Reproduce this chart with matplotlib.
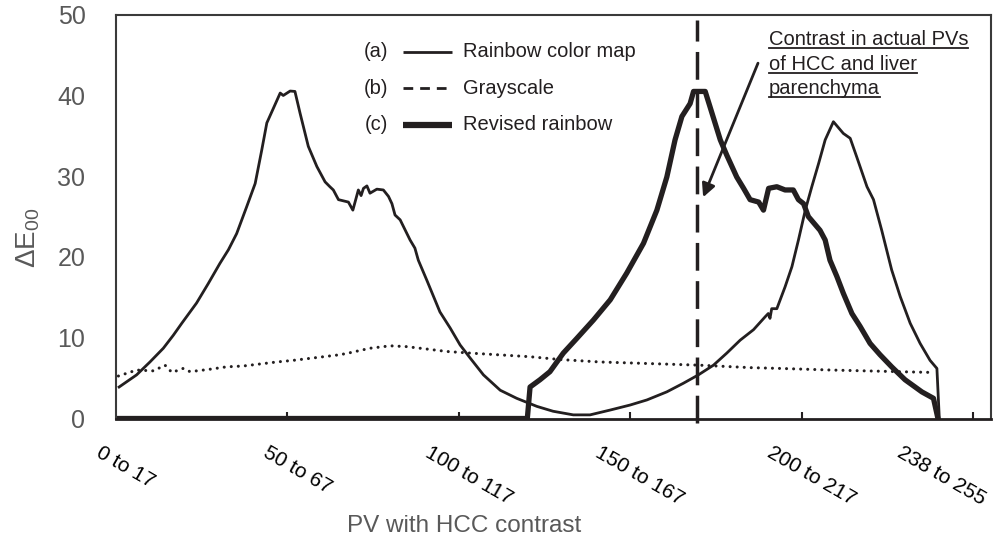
import matplotlib
matplotlib.use('Agg')
import matplotlib.pyplot as plt
from matplotlib.lines import Line2D
import matplotlib.transforms as mtransforms

plt.rcParams['font.family'] = ['Liberation Sans', 'DejaVu Sans']
plt.rcParams['mathtext.fontset'] = 'custom'
plt.rcParams['mathtext.rm'] = 'Liberation Sans'
plt.rcParams['mathtext.it'] = 'Liberation Sans'

# valores (posicion PV, Delta E00)
rainbow_x = [0.9, 6.0, 9.9, 13.8, 16.7, 19.2, 23.5, 26.9, 30.3, 32.8, 35.2, 38.1, 40.6, 42.5, 44.0,
             45.9, 47.9, 48.8, 50.8, 52.2, 53.7, 56.1, 58.6, 61.0, 62.4, 63.4, 64.9, 67.8, 69.1, 70.7,
             71.5, 72.2, 73.2, 74.1, 76.1, 78.0, 79.5, 80.5, 81.4, 82.9, 85.8, 87.2, 88.2, 90.7, 94.5,
             97.5, 100.4, 103.3, 107.2, 112.1, 116.9, 122.8, 127.5, 133.4, 138.3, 144.2, 150.0, 154.9,
             160.7, 165.5, 169.9, 174.3, 178.2, 182.1, 186.0, 189.4, 190.3, 190.8, 191.3, 192.8, 195.2,
             197.2, 199.1, 201.1, 203.0, 205.0, 206.9, 209.3, 212.2, 214.2, 216.1, 219.1, 221.0, 223.4,
             226.3, 228.8, 231.7, 234.6, 237.5, 239.5, 240.2]
rainbow_y = [3.9, 5.4, 7.0, 8.7, 10.3, 11.8, 14.3, 16.7, 19.2, 20.9, 22.9, 26.2, 29.1, 33.2, 36.6,
             38.4, 40.3, 40.0, 40.55, 40.5, 37.8, 33.7, 31.2, 29.3, 28.7, 28.3, 27.1, 26.8, 25.8, 28.3,
             27.6, 28.5, 28.8, 27.9, 28.4, 28.3, 27.5, 26.6, 25.2, 24.6, 22.1, 21.1, 19.6, 17.1, 13.2,
             11.2, 9.1, 7.5, 5.4, 3.5, 2.5, 1.5, 0.9, 0.45, 0.45, 1.05, 1.67, 2.3,
             3.3, 4.36, 5.4, 6.6, 8.1, 9.7, 11.0, 12.6, 13.0, 12.4, 13.6, 13.6, 16.3,
             18.8, 22.1, 25.8, 28.7, 31.6, 34.5, 36.75, 35.3, 34.7, 32.4, 28.7, 27.1, 23.3,
             18.4, 15.1, 11.8, 9.3, 7.2, 6.2, 0]

gray_x = [0.7, 6.0, 10.9, 14.3, 16.3, 19.6, 21.6, 27.4, 32.3, 37.1, 42.0, 46.9, 51.7, 56.6, 61.5,
          65.4, 68.3, 74.1, 80.0, 84.8, 90.7, 96.5, 103.3, 111.1, 120.8, 129.6, 141.2, 155.8, 170.4,
          185.0, 193.8, 208.8, 228.3, 238.5]
gray_y = [5.26, 6.0, 5.9, 6.6, 5.7, 6.2, 5.8, 6.1, 6.4, 6.5, 6.75, 7.0, 7.2, 7.45, 7.7,
          7.9, 8.15, 8.7, 9.0, 8.9, 8.6, 8.3, 8.1, 7.9, 7.65, 7.3, 7.0, 6.8, 6.6,
          6.3, 6.2, 6.0, 5.8, 5.7]

revised_x = [0.5, 120.0, 120.8, 123.7, 126.6, 130.5, 134.4, 139.3, 144.2, 149.0, 153.9, 157.8, 160.7,
             163.1, 165.1, 167.5, 168.5, 171.9, 173.3, 176.3, 178.2, 181.1, 183.1, 185.0, 187.5, 188.9,
             190.4, 192.8, 195.2, 197.6, 199.1, 200.6, 202.0, 205.4, 206.9, 208.3, 210.3, 212.2, 214.7,
             217.1, 220.0, 222.9, 226.3, 230.2, 235.1, 238.5, 239.8]
revised_y = [0, 0, 3.9, 4.8, 5.8, 8.1, 9.9, 12.2, 14.7, 18.0, 21.7, 25.8, 29.9,
             34.5, 37.4, 39.0, 40.5, 40.5, 38.6, 34.5, 32.6, 29.9, 28.5, 27.1, 26.8, 25.8,
             28.5, 28.7, 28.3, 28.3, 27.1, 26.6, 25.0, 23.3, 22.1, 19.6, 17.6, 15.5, 13.0,
             11.4, 9.3, 7.9, 6.4, 4.8, 3.3, 2.5, 0]

tick_pos = [0.5, 50.5, 100.5, 150.5, 200.5, 238.5]
tick_labels = ['0 to 17', '50 to 67', '100 to 117', '150 to 167', '200 to 217', '238 to 255']
hcc_pv = 169.5

ink = '#231f20'
gris = '#595959'

fig = plt.figure(figsize=(9.95, 5.45), dpi=100)
ax = fig.add_axes([0.1166, 0.2321, 0.8791, 0.7409])

ax.plot(gray_x, gray_y, color=ink, lw=2.2, linestyle=(0, (0.01, 2.3)), dash_capstyle='round')
ax.plot(rainbow_x, rainbow_y, color=ink, lw=2)
ax.plot(revised_x, revised_y, color=ink, lw=3.8)
ax.axvline(hcc_pv, ymin=-0.012, ymax=0.988, color=ink, lw=2.5, dashes=(8, 3), clip_on=False)

ax.set_xlim(0, 255.2)
ax.set_ylim(0, 50)
ax.set_yticks([0, 10, 20, 30, 40, 50])
ax.tick_params(axis='y', length=0, pad=22, labelsize=18, labelcolor=gris)
ax.set_xticks(tick_pos)
ax.set_xticklabels(tick_labels, rotation=-30, ha='center', va='top', fontsize=15)
ax.tick_params(axis='x', which='major', length=0, pad=18)
ax.set_xticks([50, 100, 150, 200, 250], minor=True)
ax.tick_params(axis='x', which='minor', direction='in', length=5, width=1.5, color=ink)
shift = mtransforms.ScaledTranslation(8 / 100, 0, fig.dpi_scale_trans)
for lab in ax.get_xticklabels():
    lab.set_transform(lab.get_transform() + shift)

for s in ['top', 'left', 'right']:
    ax.spines[s].set_color('#3a3a3a')
    ax.spines[s].set_linewidth(1.5)
ax.spines['bottom'].set_color(ink)
ax.spines['bottom'].set_linewidth(2)

# leyenda dibujada a mano
leyenda = [('(a)', 'Rainbow color map', 2, '-'),
           ('(b)', 'Grayscale', 2, '--'),
           ('(c)', 'Revised rainbow', 4.5, '-')]
for k, (letra, nombre, ancho, estilo) in enumerate(leyenda):
    yy = 45.4 - 4.5 * k
    ax.text(75.9, yy, letra, ha='center', va='center', fontsize=14.5, color=ink)
    ln = ax.plot([83.7, 98.0], [yy, yy], color=ink, lw=ancho, solid_capstyle='butt')[0]
    if estilo == '--':
        ln.set_dashes((3.5, 2.5))
        ln.set_dash_capstyle('butt')
    ax.text(101.3, yy, nombre, ha='left', va='center', fontsize=14.5, color=ink)

# anotacion subrayada
notas = ['Contrast in actual PVs', 'of HCC and liver', 'parenchyma']
textos = []
for k, linea in enumerate(notas):
    yb = 1 - (45 + 24.5 * k) / 545
    textos.append(fig.text(769 / 995, yb, linea, ha='left', va='baseline', fontsize=14.5, color=ink))
ax.annotate('', xy=(171.3, 27.4), xytext=(187.3, 44.0),
            arrowprops=dict(arrowstyle='-|>', lw=2, color=ink, mutation_scale=20,
                            shrinkA=0, shrinkB=0))

fig.text(28 / 995, 1 - 238 / 545, 'ΔE$_{00}$', rotation=90, ha='center', va='center',
         fontsize=20, color=gris)
fig.text(464 / 995, 1 - 526 / 545, 'PV with HCC contrast', ha='center', va='center',
         fontsize=17.5, color=gris)

fig.canvas.draw()
inv = fig.transFigure.inverted()
for t in textos:
    bb = t.get_window_extent()
    x0, y0 = inv.transform((bb.x0, bb.y0 + 1))
    x1, _ = inv.transform((bb.x1, bb.y0 + 1))
    fig.add_artist(Line2D([x0, x1], [y0, y0], transform=fig.transFigure, color=ink, lw=1.3))

fig.savefig('out.png', dpi=100)
